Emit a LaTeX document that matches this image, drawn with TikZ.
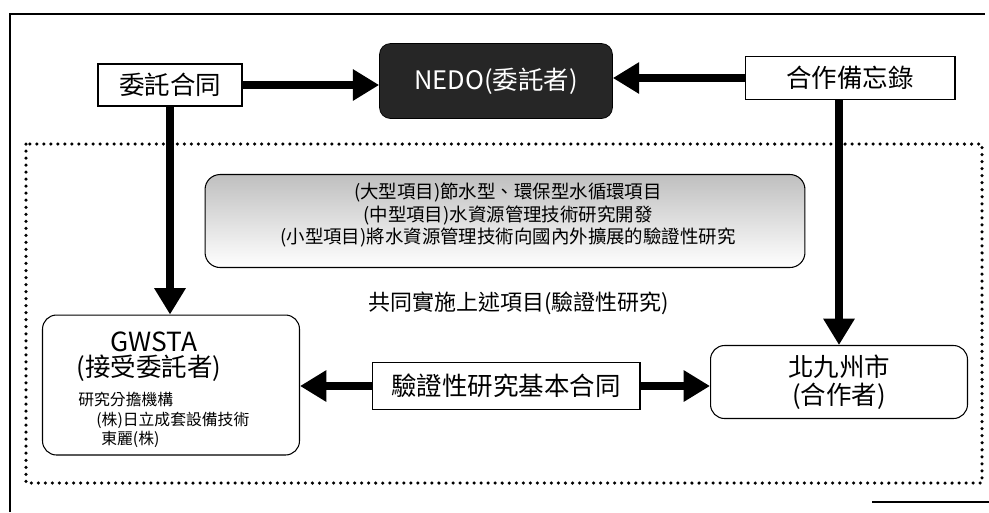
\documentclass[tikz,border=0pt]{standalone}
\usepackage{fontspec}
\setmainfont{Noto Sans CJK TC}
\usetikzlibrary{positioning,arrows.meta}

\begin{document}
\begin{tikzpicture}[
	x=0.02cm, y=-0.02cm,
	% Box styles
	contract/.style={rectangle,draw,line width=0.6pt,fill=white,inner sep=0pt,font=\fontsize{14.5}{17}\selectfont},
	party/.style={rectangle,draw,rounded corners=0.28cm,line width=0.6pt,fill=white,inner sep=0pt,align=center,font=\fontsize{14.5}{16}\selectfont},
	lead/.style={rectangle,draw=black,rounded corners=0.22cm,fill=black!85,text=white,inner sep=0pt,font=\fontsize{14.5}{17}\selectfont},
	project/.style={rectangle,draw,rounded corners=0.3cm,line width=0.6pt,top color=gray!50,bottom color=white,inner sep=0pt},
	% Text and arrow styles
	small/.style={inner sep=0pt,anchor=west,font=\fontsize{9}{11}\selectfont},
	link/.style={line width=4.8pt,-{Triangle[length=15pt,width=17pt]}}
	]
	\useasboundingbox (0,0) rectangle (989,512);
	%% Page edges and dotted frame
	\draw[line width=0.6pt] (10,512) -- (10,14) -- (985,14);
	\draw[line width=0.6pt] (872,502) -- (989,502);
	\draw[line width=2pt,line cap=round,dash pattern=on 0pt off 4pt] (26,144) rectangle (982,483);

	%% Boxes
	\node (c1) [contract,minimum width=2.88cm,minimum height=0.84cm] at (170,85) {委託合同};
	\node (p1) [lead,minimum width=4.66cm,minimum height=1.5cm] at (496,81) {NEDO(委託者)};
	\node (c2) [contract,minimum width=4.2cm,minimum height=0.86cm] at (850,78) {合作備忘錄};
	\node (b1) [project,minimum width=12cm,minimum height=1.86cm] at (505,221) {};
	\node (t1) [align=center,inner sep=0pt,font=\fontsize{10.5}{13}\selectfont] at (508,215)
		{(大型項目)節水型、環保型水循環項目\\(中型項目)水資源管理技術研究開發\\(小型項目)將水資源管理技術向國內外擴展的驗證性研究};
	\node (t2) [inner sep=0pt,font=\fontsize{12.5}{15}\selectfont] at (519,303) {共同實施上述項目(驗證性研究)};
	\node (p2) [party,minimum width=5.14cm,minimum height=2.8cm] at (171,385) {};
	\node (t3) [inner sep=0pt,font=\fontsize{15}{18}\selectfont] at (154,342) {GWSTA};
	\node (t4) [inner sep=0pt,font=\fontsize{14.5}{17}\selectfont] at (149,368) {(接受委託者)};
	\node (t5) [small] at (78,399) {研究分擔機構};
	\node (t6) [small] at (96,420) {(株)日立成套設備技術};
	\node (t7) [small] at (101,439) {東麗(株)};
	\node (c3) [contract,minimum width=5.36cm,minimum height=0.94cm] at (506,386) {驗證性研究基本合同};
	\node (p3) [party,minimum width=5.14cm,minimum height=1.46cm] at (839,382) {北九州市\\(合作者)};

	%% Arrows
	\draw[link] (c1.east) -- (c1.east -| p1.west);
	\draw[link] (c2.west) -- (c2.west -| p1.east);
	\draw[link] (c1.south) -- (c1.south |- p2.north);
	\draw[link] (p3.north |- c2.south) -- (p3.north);
	\draw[link] (c3.west) -- (c3.west -| p2.east);
	\draw[link] (c3.east) -- (c3.east -| p3.west);
\end{tikzpicture}
\end{document}
